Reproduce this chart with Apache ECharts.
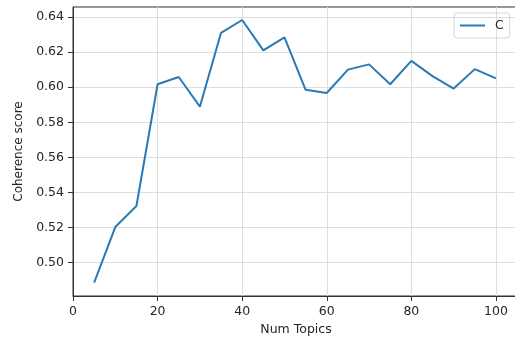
<!DOCTYPE html>
<html>
<head>
<meta charset="utf-8">
<script src="https://cdn.jsdelivr.net/npm/echarts@6/dist/echarts.min.js"></script>
<style>html,body{margin:0;padding:0;background:#fff;}#c{width:515px;height:342px;}</style>
</head>
<body>
<div id="c"></div>
<script>
const numTopics = [5,10,15,20,25,30,35,40,45,50,55,60,65,70,75,80,85,90,95,100];
const coherence = [0.4886,0.5203,0.5323,0.6017,0.6058,0.5889,0.6310,0.6383,0.6210,0.6284,0.5985,0.5967,0.6100,0.6130,0.6017,0.6150,0.6063,0.5992,0.6103,0.6050];
const yTicks = [0.50,0.52,0.54,0.56,0.58,0.60,0.62,0.64];
const xTicks = [0,20,40,60,80,100];
const seriesName = 'C';

const font = 'DejaVu Sans';
const chart = echarts.init(document.getElementById('c'), null, {renderer:'canvas'});
chart.setOption({
  animation: false,
  backgroundColor: '#fff',
  grid: {left:73, top:7, width:446, height:289, outerBoundsMode:'none', containLabel:false,
    show:true, borderColor:'#333', borderWidth:1, backgroundColor:'transparent'},
  legend: {
    show: true, left: 454, top: 13, orient:'vertical',
    padding: [6,6,6,6], borderColor:'#d6d6d6', borderWidth:1, borderRadius:3,
    icon: 'rect', itemWidth: 25, itemHeight: 2, itemGap: 4,
    textStyle: {fontFamily: font, fontSize: 12.5, color:'#262626', padding:[0,0,0,5]},
    data: [seriesName]
  },
  xAxis: {
    type:'value', min:0, max:105.45,
    name:'Num Topics', nameLocation:'middle', nameGap:25,
    nameTextStyle:{fontFamily:font, fontSize:12.5, color:'#262626'},
    axisLine:{show:true, onZero:false, lineStyle:{color:'#333', width:1}},
    axisTick:{show:true, length:5, customValues:xTicks, lineStyle:{color:'#333'}},
    axisLabel:{customValues:xTicks, margin:9, fontFamily:font, fontSize:12.5, color:'#262626'},
    splitLine:{show:true, lineStyle:{color:'#dedede', width:1}}
  },
  yAxis: {
    type:'value', min:0.481, max:0.6457,
    name:'Coherence score', nameLocation:'middle', nameGap:41,
    nameTextStyle:{fontFamily:font, fontSize:12, color:'#262626'},
    axisLine:{show:true, lineStyle:{color:'#333', width:1}},
    axisTick:{show:true, length:5, customValues:yTicks, lineStyle:{color:'#333'}},
    axisLabel:{customValues:yTicks, margin:9, fontFamily:font, fontSize:12.5, color:'#262626',
      formatter:v=>v.toFixed(2)},
    splitLine:{show:true, lineStyle:{color:'#dedede', width:1}}
  },
  series: [{
    name: seriesName, type:'line', symbol:'none',
    data: numTopics.map((x,i)=>[x, coherence[i]]),
    lineStyle:{color:'#2a7ab5', width:2}, itemStyle:{color:'#2a7ab5'}
  }]
});
</script>
</body>
</html>
